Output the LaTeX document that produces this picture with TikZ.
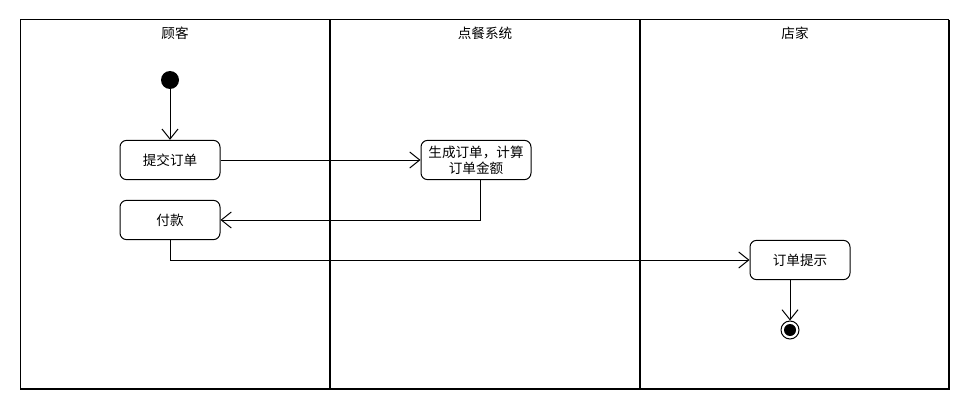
\documentclass[tikz,border=0pt]{standalone}
\usepackage{fontspec}
\setmainfont{Noto Sans CJK SC}
\usetikzlibrary{arrows.meta}

\begin{document}
\begin{tikzpicture}[x=0.75pt, y=-0.75pt,
    font=\fontsize{10.2}{12}\selectfont,
    lane/.style={line width=1.5pt},
    action/.style={draw, line width=0.75pt, rounded corners=5pt, minimum width=75pt,
      minimum height=29.5pt, inner sep=1pt, align=center},
    flow/.style={line width=0.75pt, -{Straight Barb[length=7.5pt, width=12pt, line width=0.75pt]}}]
    % Canvas
    \useasboundingbox (0,0) rectangle (970,410);

    % Swimlanes
    \draw[line width=0.75pt] (20,389) -- (20,20) -- (949,20);
    \draw[lane] (949,20) -- (949,389) -- (20,389);
    \draw[lane] (330,20) -- (330,389);
    \draw[lane] (640,20) -- (640,389);

    % Lane headers
    \node (customer) at (175,33) {顾客};
    \node (system) at (485,33) {点餐系统};
    \node (shop) at (795,33) {店家};

    % Initial and final nodes
    \node[circle, fill=black, minimum size=13.5pt, inner sep=0pt] (start) at (170,80) {};
    \node[circle, draw, line width=0.75pt, minimum size=13.5pt, inner sep=0pt] (stop) at (790,330) {};
    \fill (stop) circle (4.5pt);

    % Actions
    \node[action] (submit) at (170,160) {提交订单};
    \node[action] (pay) at (170,220) {付款};
    \node[action, minimum width=82.5pt] (generate) at (476,160) {生成订单，计算\\订单金额};
    \node[action] (notify) at (800,260) {订单提示};

    % Flows
    \coordinate (gx) at (480,0);
    \draw[flow] (start) -- (submit);
    \draw[flow] (submit) -- (generate);
    \draw[flow] (generate.south -| gx) |- (pay.east);
    \draw[flow] (pay.south) |- (notify.west);
    \draw[flow] (notify.south -| stop) -- (stop);
\end{tikzpicture}
\end{document}
